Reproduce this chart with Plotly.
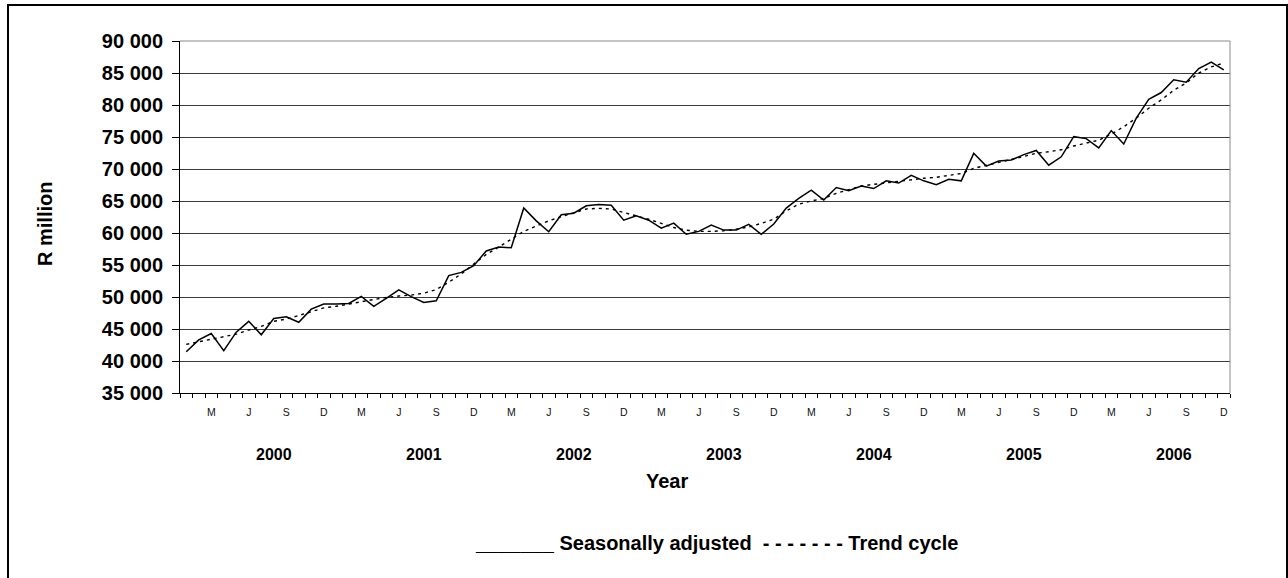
import plotly.graph_objects as go

# ---------------- data ----------------
years = [2000, 2001, 2002, 2003, 2004, 2005, 2006]
month_letters = {3: "M", 6: "J", 9: "S", 12: "D"}

seasonally_adjusted = [
    41450, 43300, 44300, 41600, 44500, 46200, 44100, 46650, 46900, 46050, 48100, 48900,   # 2000
    48900, 49000, 50100, 48550, 49800, 51100, 50050, 49150, 49400, 53350, 53850, 54900,   # 2001
    57200, 57800, 57700, 63900, 61900, 60200, 62850, 63100, 64250, 64450, 64350, 62000,   # 2002
    62700, 62000, 60750, 61550, 59800, 60250, 61250, 60450, 60450, 61350, 59800, 61400,   # 2003
    63900, 65400, 66700, 65150, 67100, 66600, 67350, 66950, 68150, 67800, 69000, 68150,   # 2004
    67550, 68400, 68150, 72450, 70450, 71250, 71400, 72250, 72900, 70600, 71900, 75050,   # 2005
    74750, 73300, 76000, 73900, 77950, 80900, 81950, 83950, 83550, 85700, 86700, 85500,   # 2006
]

trend_cycle = [
    42600, 43000, 43450, 43800, 44200, 44850, 45400, 46200, 46550, 47100, 47750, 48300,   # 2000
    48550, 48900, 49250, 49700, 49950, 50150, 50300, 50600, 51150, 52300, 53600, 55150,   # 2001
    56650, 57800, 59000, 60250, 61100, 61900, 62550, 63200, 63750, 63850, 63750, 63200,   # 2002
    62700, 62150, 61500, 60850, 60450, 60250, 60250, 60350, 60600, 60950, 61500, 62150,   # 2003
    63450, 64500, 65000, 65400, 66200, 66800, 67350, 67600, 67850, 68000, 68300, 68550,   # 2004
    68700, 69050, 69300, 70100, 70600, 71050, 71500, 71950, 72450, 72700, 73000, 73600,   # 2005
    74000, 74500, 75450, 76600, 77950, 79500, 80800, 82300, 83450, 85000, 85950, 86550,   # 2006
]

# month index 0..83 with (year, month)
periods = [(y, m) for y in years for m in range(1, 13)]
idx = list(range(len(periods)))

tick_vals = [i for i, (y, m) in enumerate(periods) if m in month_letters]
tick_text = [month_letters[periods[i][1]] for i in tick_vals]
minor_vals = [i - 0.5 for i in range(len(periods) + 1)]

FONT = "Liberation Sans, Arial, sans-serif"

# layout geometry (pixels)
W, H = 1288, 578
ML, MR, MT, MB = 180, 58, 41, 185
PW, PH = W - ML - MR, H - MT - MB


def px_x(px):
    return (px - ML) / PW


def px_y(py):
    return (H - MB - py) / PH


fig = go.Figure()
fig.add_trace(go.Scatter(
    x=idx, y=trend_cycle, mode="lines", name="Trend cycle",
    line=dict(color="black", width=1.4, dash="3px,4px"),
))
fig.add_trace(go.Scatter(
    x=idx, y=seasonally_adjusted, mode="lines", name="Seasonally adjusted",
    line=dict(color="black", width=1.5),
))

fig.update_layout(
    width=W, height=H,
    margin=dict(l=ML, r=MR, t=MT, b=MB, autoexpand=False),
    paper_bgcolor="white", plot_bgcolor="white",
    showlegend=False,
    separators=". ",
    font=dict(family=FONT, color="black"),
)

fig.update_xaxes(
    range=[-0.5, len(periods) - 0.5],
    tickmode="array", tickvals=tick_vals, ticktext=tick_text,
    ticks="", ticklen=0,
    tickfont=dict(family=FONT, size=10.5, color="#111"),
    ticklabelstandoff=9,
    showgrid=False, zeroline=False,
    showline=True, linecolor="black", linewidth=1,
    minor=dict(tickmode="array", tickvals=minor_vals, ticks="outside",
               ticklen=4, tickcolor="black", tickwidth=1, showgrid=False),
)

fig.update_yaxes(
    range=[35000, 90000], tickmode="linear", tick0=35000, dtick=5000,
    tickformat=",d",
    ticks="outside", ticklen=7, tickcolor="black", tickwidth=1,
    tickfont=dict(family=FONT, size=20, weight="bold", color="black"),
    ticklabelstandoff=5,
    showgrid=True, gridcolor="#3c3c3c", gridwidth=1,
    zeroline=False,
    showline=True, linecolor="black", linewidth=1,
)

annotations = []
for k, yr in enumerate(years):
    annotations.append(dict(
        x=12 * k + 7, xref="x", y=px_y(454), yref="paper",
        text=str(yr), showarrow=False, xanchor="center", yanchor="middle",
        font=dict(family=FONT, size=16, weight="bold", color="black"),
    ))
annotations.append(dict(
    x=px_x(667), xref="paper", y=px_y(481), yref="paper",
    text="Year", showarrow=False, xanchor="center", yanchor="middle",
    font=dict(family=FONT, size=20, weight="bold", color="black"),
))
annotations.append(dict(
    x=px_x(716), xref="paper", y=px_y(543), yref="paper",
    text="_______ Seasonally adjusted\u00a0\u00a0- - - - - - - Trend cycle",
    showarrow=False, xanchor="center", yanchor="middle",
    font=dict(family=FONT, size=20, weight="bold", color="black"),
))
annotations.append(dict(
    x=px_x(45), xref="paper", y=px_y(224), yref="paper",
    text="R million", textangle=-90, showarrow=False,
    xanchor="center", yanchor="middle",
    font=dict(family=FONT, size=20, weight="bold", color="black"),
))
fig.update_layout(annotations=annotations)

shapes = [
    # outer frame
    dict(type="rect", xref="paper", yref="paper",
         x0=px_x(8), x1=px_x(1287), y0=px_y(584), y1=px_y(5),
         line=dict(color="black", width=2), layer="above"),
    # plot-area border (top and right, grey)
    dict(type="line", xref="paper", yref="paper", x0=1, x1=1, y0=0, y1=1,
         line=dict(color="#8a8a8a", width=1), layer="above"),
    dict(type="line", xref="paper", yref="paper", x0=0, x1=1, y0=1, y1=1,
         line=dict(color="#8a8a8a", width=1), layer="above"),
]
fig.update_layout(shapes=shapes)

fig.write_html("out.html")
